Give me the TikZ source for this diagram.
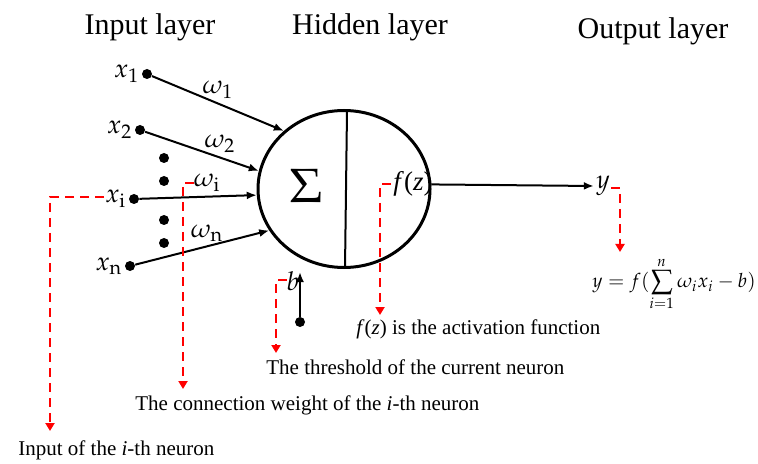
\documentclass[tikz,border=0pt]{standalone}
\usepackage{mathpazo}
\usepackage{fontspec}
\setmainfont{Liberation Serif}
\usetikzlibrary{arrows.meta,shapes.geometric}
\begin{document}
\begin{tikzpicture}[x=0.5pt,y=-0.5pt,
  title/.style={font=\fontsize{15}{17}\selectfont},
  lab/.style={font=\fontsize{13}{15}\selectfont, inner sep=1pt},
  note/.style={font=\fontsize{10.5}{12}\selectfont, anchor=west, inner sep=0pt},
  indot/.style={circle, fill=black, minimum size=5pt, inner sep=0pt},
  conn/.style={line width=1pt, -{Latex[length=5pt,width=4pt]}},
  redann/.style={red, line width=1.2pt, dash pattern=on 4.5pt off 3pt, -{Triangle[length=4pt,width=4.5pt]}},
]
\useasboundingbox (0,0) rectangle (758,464);

% titles
\node[title] (tin) at (150,27) {Input layer};
\node[title] (thid) at (370,27) {Hidden layer};
\node[title] (tout) at (653,31) {Output layer};

% neuron
\node[ellipse, draw, line width=1.5pt, minimum width=86pt, minimum height=78.5pt, inner sep=0pt] (neuron) at (344,189) {};
\coordinate (divt) at (347,111);
\coordinate (divb) at (345,268);
\draw[line width=1pt] (divt) -- (divb);
\node[font=\fontsize{24}{26}\selectfont] (sig) at (307,186) {$\Sigma$};
\node[font=\fontsize{13.5}{15}\selectfont, anchor=west, inner sep=0pt] (fz) at (393,184) {\textit{f}(\textit{z})};

% inputs
\node[indot] (x1d) at (147,74) {};
\node[indot] (x2d) at (140,130) {};
\node[indot] (xid) at (134,199) {};
\node[indot] (xnd) at (130,266) {};
\node[lab, anchor=east] (x1) at (x1d.west) {$x_1$};
\node[lab, anchor=east] (x2) at (x2d.west) {$x_2$};
\node[lab, anchor=east] (xi) at (xid.west) {$x_{\mathrm{i}}$};
\node[lab, anchor=east] (xn) at (xnd.west) {$x_{\mathrm{n}}$};

\node[indot] (e1) at (164,158) {};
\node[indot] (e2) at (164,181) {};
\node[indot] (e3) at (164,220) {};
\node[indot] (e4) at (164,243) {};

\draw[conn] (x1d) -- (neuron.136);
\draw[conn] (x2d) -- (neuron.168);
\draw[conn] (xid) -- (neuron.184);
\draw[conn] (xnd) -- (neuron.209);

\node[lab] (w1) at (218,90) {$\omega_1$};
\node[lab] (w2) at (220,144) {$\omega_2$};
\node[lab] (wi) at (207,183) {$\omega_{\mathrm{i}}$};
\node[lab] (wn) at (207,233) {$\omega_{\mathrm{n}}$};

% bias
\node[indot] (bd) at (300,322) {};
\coordinate (bin) at (300,272);
\draw[conn] (bd) -- (bin);
\node[lab] (b) at (293,281) {$b$};

% output
\node[lab] (y) at (603,186) {$y$};
\draw[conn] (neuron.3) -- (y.west);

% formula
\node[font=\fontsize{9.8}{12}\selectfont, inner sep=0pt] (form) at (674,284) {$\displaystyle y=f(\sum_{i=1}^{n}\omega_i x_i-b)$};

% notes
\node[note] (n1) at (18,450) {Input of the \textit{i}-th neuron};
\node[note] (n2) at (135,405) {The connection weight of the \textit{i}-th neuron};
\node[note] (n3) at (266,367) {The threshold of the current neuron};
\node[note] (n4) at (356,329) {\textit{f}(\textit{z}) is the activation function};

% red annotations
\coordinate (a1) at (104,197);
\coordinate (a1c) at (50,197);
\coordinate (a1e) at (50,431);
\draw[redann] (a1) -- (a1c) -- (a1e);

\coordinate (a2) at (194,183);
\coordinate (a2c) at (183,183);
\coordinate (a2e) at (183,389);
\draw[redann] (a2) -- (a2c) -- (a2e);

\coordinate (a3) at (287,280);
\coordinate (a3c) at (276,280);
\coordinate (a3e) at (276,353);
\draw[redann] (a3) -- (a3c) -- (a3e);

\coordinate (a4) at (391,184);
\coordinate (a4c) at (380,184);
\coordinate (a4e) at (380,315);
\draw[redann] (a4) -- (a4c) -- (a4e);

\coordinate (a5) at (611,188);
\coordinate (a5c) at (620,188);
\coordinate (a5e) at (620,252);
\draw[redann] (a5) -- (a5c) -- (a5e);
\end{tikzpicture}
\end{document}
